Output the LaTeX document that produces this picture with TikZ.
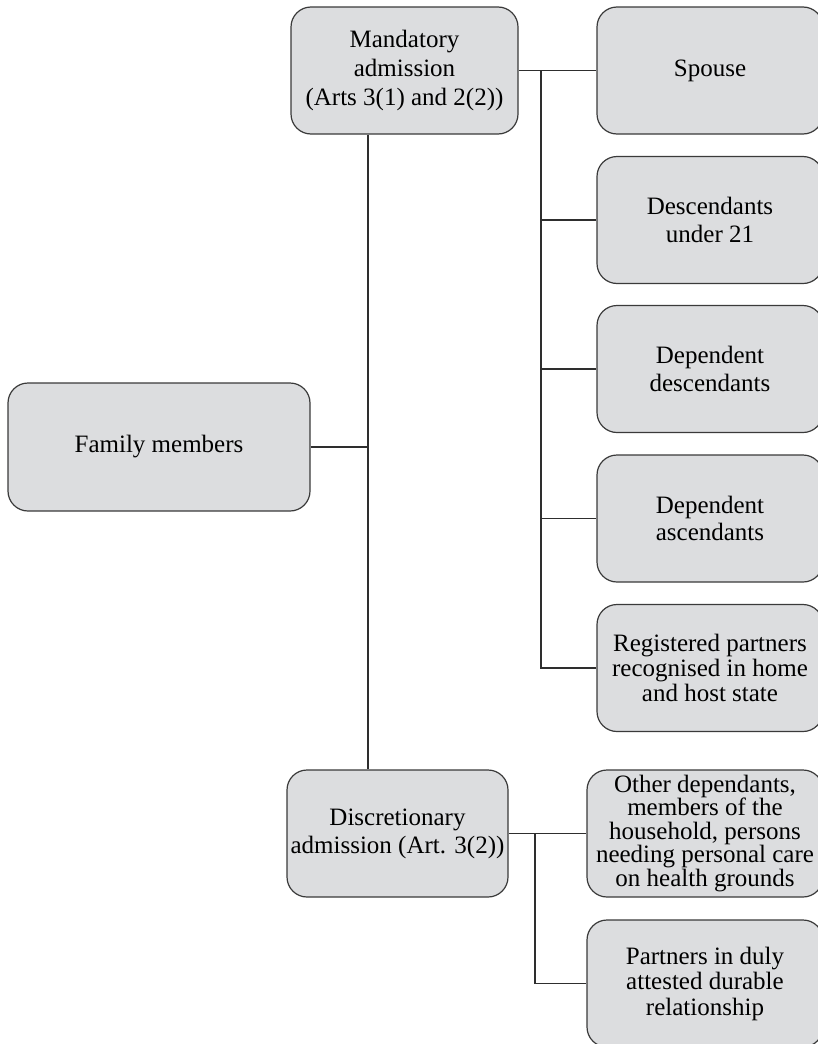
\documentclass[tikz,border=0pt]{standalone}
\usepackage{fontspec}
\setmainfont{Liberation Serif}
\definecolor{boxfill}{HTML}{DCDDDF}
\definecolor{boxline}{HTML}{3A3A3A}
\definecolor{linkcol}{HTML}{2E2E2E}
\begin{document}
\begin{tikzpicture}[x=1pt,y=-1pt,
  box/.style={draw=boxline, fill=boxfill, line width=1.2pt, rounded corners=20pt,
    align=center, inner sep=0pt, font=\fontsize{25}{25}\selectfont},
  lead/.style={font=\fontsize{25}{#1}\selectfont},
  link/.style={draw=linkcol, line width=1.1pt}]
\useasboundingbox (0,0) rectangle (818,1044);
\clip (0,0) rectangle (818,1044);

% root and the two admission groups
\node[box, minimum width=302pt, minimum height=128pt] (fam) at (159,447) {Family members};
\node[box, lead=29, minimum width=227pt, minimum height=127pt] (mand) at (404.5,70.5)
  {Mandatory\\admission\\(Arts 3(1) and 2(2))};
\node[box, lead=28, minimum width=221pt, minimum height=127pt] (disc) at (397.5,833.5)
  {Discretionary\\admission (Art. 3(2))};

% mandatory categories
\node[box, minimum width=226pt, minimum height=127pt] (spouse) at (710,70.5) {Spouse};
\node[box, lead=27.5, minimum width=226pt, minimum height=127pt] (desc) at (710,220) {Descendants\\under 21};
\node[box, lead=27.5, minimum width=226pt, minimum height=127pt] (depd) at (710,369) {Dependent\\descendants};
\node[box, lead=27.5, minimum width=226pt, minimum height=127pt] (depa) at (710,518.5) {Dependent\\ascendants};
\node[box, lead=25, minimum width=226pt, minimum height=127pt] (reg) at (710,668)
  {Registered partners\\recognised in home\\and host state};

% discretionary categories
\node[box, lead=23.5, minimum width=236pt, minimum height=127pt] (other) at (705,833.5)
  {Other dependants,\\members of the\\household, persons\\needing personal care\\on health grounds};
\node[box, lead=25.5, minimum width=236pt, minimum height=127pt] (part) at (705,983.5)
  {Partners in duly\\attested durable\\relationship};

% connector bus positions
\coordinate (t) at (368,0);
\coordinate (b1) at (541,0);
\coordinate (b2) at (535,0);

\draw[link] (t |- mand.south) -- (t |- disc.north);
\draw[link] (fam.east) -- (fam.east -| t);
\draw[link] (mand.east) -- (spouse.west);
\foreach \n in {desc,depd,depa,reg}
  \draw[link] (b1 |- spouse.west) |- (\n.west);
\draw[link] (disc.east) -- (other.west);
\draw[link] (b2 |- other.west) |- (part.west);
\end{tikzpicture}
\end{document}
